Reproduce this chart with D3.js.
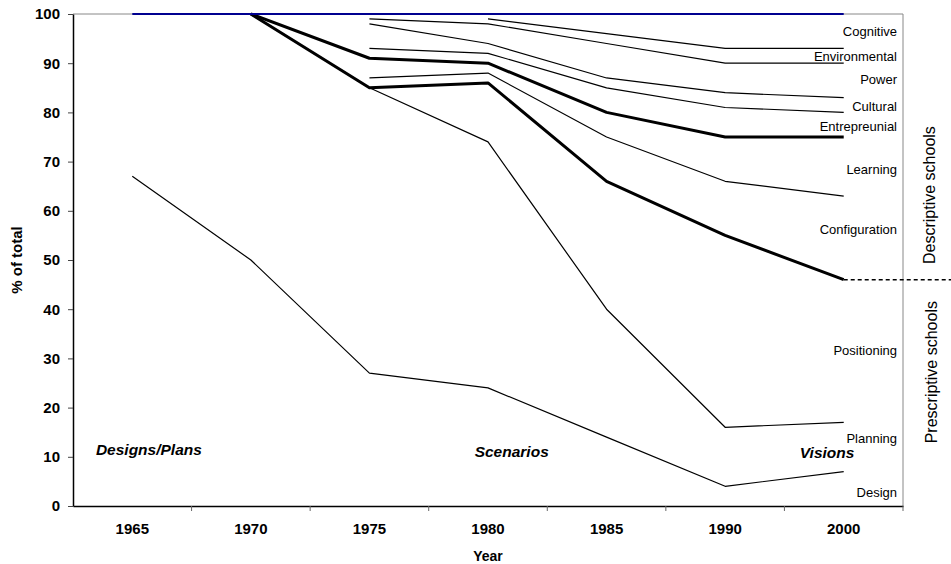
<!DOCTYPE html>
<html>
<head>
<meta charset="utf-8">
<script src="https://cdn.jsdelivr.net/npm/d3@7"></script>
<style>
  body { margin: 0; background: #fff; }
  text { font-family: Arial, "Liberation Sans", sans-serif; }
</style>
</head>
<body>
<div class="chart-container"></div>
<script>
// categories along the x axis
const years = ['1965', '1970', '1975', '1980', '1985', '1990', '2000'];

// cumulative boundaries between schools (% of total), null = not yet present
const totalLine = [100, 100, 100, 100, 100, 100, 100];
const cognitiveLine = [null, null, null, 99, 96, 93, 93];
const environmentalLine = [null, null, 99, 98, 94, 90, 90];
const powerLine = [null, null, 98, 94, 87, 84, 83];
const culturalLine = [null, null, 93, 92, 85, 81, 80];
const entrepreneurialLine = [null, 100, 91, 90, 80, 75, 75];
const learningLine = [null, null, 87, 88, 75, 66, 63];
const configurationLine = [null, 100, 85, 86, 66, 55, 46];
const positioningLine = [null, 100, 85, 74, 40, 16, 17];
const designLine = [67, 50, 27, 24, 14, 4, 7];

const yTicks = [0, 10, 20, 30, 40, 50, 60, 70, 80, 90, 100];

// school names and the value where each name sits
const schoolNames = ['Cognitive', 'Environmental', 'Power', 'Cultural', 'Entrepreunial',
   'Learning', 'Configuration', 'Positioning', 'Planning', 'Design'];
const schoolLabelValues = [96.5, 91.3, 86.6, 81.3, 77.1, 68.5, 56.3, 31.7, 13.8, 2.8];

// period labels: category index + fraction of band, and value
const periodNames = ['Designs/Plans', 'Scenarios', 'Visions'];
const periodPositions = [0.64, 3.70, 6.36];
const periodValues = [11.4, 11.0, 10.8];

// group titles on the right side and the value of their centre
const groupNames = ['Descriptive schools', 'Prescriptive schools'];
const groupValues = [63.2, 27.2];

const splitValue = 46; // between descriptive and prescriptive schools

function build_x_scale(left, right) {
   return d3.scaleBand()
      .domain(years)
      .range([left, right])
      .paddingInner(0)
      .paddingOuter(0);
}

function build_y_scale(top, bottom) {
   return d3.scaleLinear()
      .domain([0, 100])
      .range([bottom, top]);
}

function draw_line(svg, values, xScale, yScale, width, color) {
   const pts = years.map((y, i) => ({ year: y, value: values[i] }));
   const line = d3.line()
      .defined(d => d.value !== null)
      .x(d => xScale(d.year) + xScale.bandwidth() / 2)
      .y(d => yScale(d.value));
   svg.append('path')
      .datum(pts)
      .attr('d', line)
      .attr('fill', 'none')
      .attr('stroke', color)
      .attr('stroke-width', width)
      .attr('stroke-linejoin', 'round');
}

function build_chart() {
   const W = 951, H = 564;
   const left = 73, right = 903, top = 14, bottom = 506;

   const svg = d3.select('.chart-container')
      .append('svg')
      .attr('width', W)
      .attr('height', H);

   const xScale = build_x_scale(left, right);
   const yScale = build_y_scale(top, bottom);
   const cx = d => xScale(d) + xScale.bandwidth() / 2;

   // plot frame (top and right) in grey
   svg.append('path')
      .attr('d', `M${left},${top}H${right}V${bottom}`)
      .attr('fill', 'none')
      .attr('stroke', '#888')
      .attr('stroke-width', 1);

   // y axis
   const yAxis = svg.append('g')
      .attr('transform', `translate(${left},0)`)
      .call(d3.axisLeft(yScale).tickValues(yTicks).tickSizeInner(5).tickSizeOuter(0).tickPadding(8));
   yAxis.select('.domain').attr('stroke', '#000').attr('stroke-width', 1.5);
   yAxis.selectAll('.tick line').attr('stroke', '#444');
   yAxis.selectAll('text')
      .style('font-size', '15px')
      .style('font-weight', 'bold')
      .attr('fill', '#000');

   // x axis, ticks between categories
   const xAxis = svg.append('g')
      .attr('transform', `translate(0,${bottom})`)
      .call(d3.axisBottom(xScale).tickSize(0).tickPadding(17));
   xAxis.select('.domain').attr('stroke', '#000').attr('stroke-width', 1.5);
   xAxis.selectAll('text')
      .style('font-size', '15px')
      .style('font-weight', 'bold')
      .attr('fill', '#000');
   xAxis.selectAll('.sep')
      .data(xScale.domain().slice(1).concat(['end']))
      .enter()
      .append('line')
      .attr('class', 'sep')
      .attr('x1', (d, i) => left + xScale.bandwidth() * (i + 1))
      .attr('x2', (d, i) => left + xScale.bandwidth() * (i + 1))
      .attr('y1', 0)
      .attr('y2', 5)
      .attr('stroke', '#666');

   // boundary lines
   draw_line(svg, designLine, xScale, yScale, 1.2, '#000');
   draw_line(svg, positioningLine, xScale, yScale, 1.2, '#000');
   draw_line(svg, configurationLine, xScale, yScale, 3, '#000');
   draw_line(svg, learningLine, xScale, yScale, 1.2, '#000');
   draw_line(svg, entrepreneurialLine, xScale, yScale, 3, '#000');
   draw_line(svg, culturalLine, xScale, yScale, 1.2, '#000');
   draw_line(svg, powerLine, xScale, yScale, 1.2, '#000');
   draw_line(svg, environmentalLine, xScale, yScale, 1.2, '#000');
   draw_line(svg, cognitiveLine, xScale, yScale, 1.2, '#000');
   draw_line(svg, totalLine, xScale, yScale, 2, '#000090');

   // dashed split between descriptive and prescriptive
   svg.append('line')
      .attr('x1', cx(years[years.length - 1]))
      .attr('x2', W)
      .attr('y1', yScale(splitValue))
      .attr('y2', yScale(splitValue))
      .attr('stroke', '#000')
      .attr('stroke-width', 1.5)
      .attr('stroke-dasharray', '4,3');

   // school names on the right
   svg.selectAll('.school')
      .data(schoolNames)
      .enter()
      .append('text')
      .attr('class', 'school')
      .attr('x', right - 6)
      .attr('y', (d, i) => yScale(schoolLabelValues[i]))
      .attr('dy', '0.35em')
      .attr('text-anchor', 'end')
      .style('font-size', '13px')
      .text(d => d);

   // period names
   svg.selectAll('.period')
      .data(periodNames)
      .enter()
      .append('text')
      .attr('class', 'period')
      .attr('x', (d, i) => left + xScale.bandwidth() * periodPositions[i])
      .attr('y', (d, i) => yScale(periodValues[i]))
      .attr('dy', '0.35em')
      .attr('text-anchor', 'middle')
      .style('font-size', '15.5px')
      .style('font-weight', 'bold')
      .style('font-style', 'italic')
      .text(d => d);

   // side group titles
   svg.selectAll('.group')
      .data(groupNames)
      .enter()
      .append('text')
      .attr('class', 'group')
      .attr('transform', (d, i) => `translate(${929 + i * 2},${yScale(groupValues[i])}) rotate(-90)`)
      .attr('text-anchor', 'middle')
      .attr('dy', '0.35em')
      .style('font-size', '16px')
      .text(d => d);

   // axis titles
   svg.append('text')
      .attr('x', (left + right) / 2)
      .attr('y', 561)
      .attr('text-anchor', 'middle')
      .style('font-size', '14px')
      .style('font-weight', 'bold')
      .text('Year');
   svg.append('text')
      .attr('transform', `translate(17,${yScale(50)}) rotate(-90)`)
      .attr('text-anchor', 'middle')
      .attr('dy', '0.35em')
      .style('font-size', '15px')
      .style('font-weight', 'bold')
      .text('% of total');
}

build_chart();
</script>
</body>
</html>
